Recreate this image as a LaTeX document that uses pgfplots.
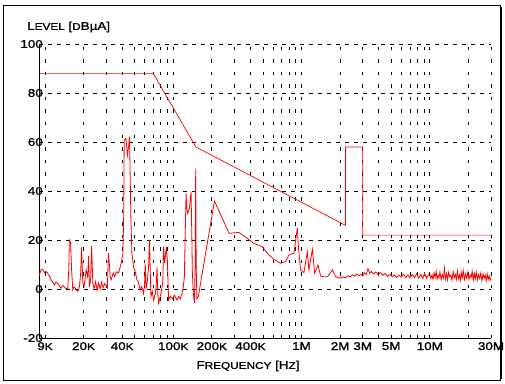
\documentclass[border=0pt]{standalone}
\usepackage{fontspec}
\setmainfont{Liberation Sans}[FakeStretch=1.2,FakeBold=1.3]
\usepackage{pgfplots}
\pgfplotsset{compat=1.18}
\newcommand\sm[1]{{\fontsize{9.8}{10}\selectfont #1}}
\begin{document}
\begin{tikzpicture}
\useasboundingbox (-39pt,-45pt) rectangle (466pt,338pt);
\draw[line width=0.9pt] (-36pt,-42pt) rectangle (461pt,333pt);
\draw[line width=1.2pt] (462pt,-41pt) -- (462pt,331pt);
\begin{axis}[
  at={(0pt,0pt)}, anchor=south west,
  scale only axis, width=452pt, height=294pt,
  xmode=log, xmin=9000, xmax=3e7, ymin=-20, ymax=100,
  axis x line*=bottom, axis y line*=left,
  every outer x axis line/.append style={-},
  every outer y axis line/.append style={-},
  axis line style={line width=0.9pt, black},
  xtick={9000,20000,40000,100000,200000,400000,1000000,2000000,3000000,5000000,10000000,30000000},
  xticklabels={\hspace*{12pt}9\sm{K},20\sm{K},40\sm{K},100\sm{K},200\sm{K},400\sm{K},1M,2M,3M,5M,10M,30M},
  minor xtick={10000,30000,50000,60000,70000,80000,90000,300000,500000,600000,700000,800000,900000,4000000,6000000,7000000,8000000,9000000,20000000},
  ytick={-20,0,20,40,60,80,100},
  yticklabels={-20,0,20,40,60,80,100},
  major tick length=0pt, minor tick length=0pt,
  xmajorgrids, xminorgrids, ymajorgrids,
  x grid style={black, line width=0.7pt, dash pattern=on 3.5pt off 9pt},
  minor x grid style={black, line width=0.7pt, dash pattern=on 3.5pt off 9pt},
  y grid style={black, line width=0.7pt, dash pattern=on 4pt off 5pt},
  tick label style={font=\fontsize{11.2}{12}\selectfont},
  xticklabel style={yshift=-3pt, inner sep=1pt},
  yticklabel style={anchor=east, inner sep=0pt, xshift=4pt},
  clip=false,
]
% limit line
\addplot[red, line width=0.7pt] coordinates {
(9000,88)(70000,88)(150000,58)(2200000,26)(2200000,58)(3000000,58)(3000000,22)(30000000,22)};
% measured trace
\addplot[red, line width=0.8pt] coordinates {
(9000,5.5)(9163,6.5)(9329,7.8)(9619,8)(9901,6.7)(10200,7.2)(10525,6.4)(10800,5.5)(11168,3.7)(11500,2.8)(11851,1.6)(12200,2.8)(12599,2.3)(13000,1.2)(13367,0.3)(13800,1.5)(14187,0.9)(14600,0.1)(15082,0.3)(15355,8)(15522,20)(15862,19)(16150,8)(16503,-0.4)(16850,0.8)(17201,0.5)(17600,-0.6)(18052,-1)(18580,0.8)(18986,6)(19330,17)(19753,2.4)(20222,1)(20963,7.8)(21535,5)(21926,13.5)(22244,0.8)(22727,4)(23142,17.5)(23645,2.3)(24206,0)(24868,3)(25547,-0.5)(26246,2.5)(26964,0)(27701,2.8)(28461,0.5)(29238,2.2)(30038,1.5)(30695,0.5)(31252,14.6)(31819,10)(32283,5)(32865,3.7)(34067,6.5)(34999,5)(35959,7)(37274,6.5)(38154,7.8)(39342,10.5)(40567,14.6)(41153,30)(41525,60.8)(42809,61.5)(44060,54.7)(44861,58)(45675,62.2)(46250,45)(46837,28.2)(47687,14.6)(49081,9.1)(50611,7)(52186,3.7)(53417,3)(55379,-0.4)(56894,1)(58759,-1.8)(59832,2)(60589,10.5)(61472,0)(62813,3)(64301,9.1)(65467,20)(66546,3)(67147,-3.1)(68733,-1)(70347,-4.5)(72535,-2)(73850,2)(74779,9.1)(75871,-2)(76956,-5.8)(79350,-3)(81515,0)(82997,3)(84202,17.3)(85731,10.5)(86821,13)(88396,17.3)(90000,12)(92138,-4.5)(94986,-3)(98473,-4)(102068,-2.5)(107150,-4.5)(110663,-3)(113704,-4)(117216,-1.8)(120017,1)(122193,5)(124406,25)(125989,39)(127812,33)(129676,30.9)(133705,33)(137862,39.7)(139859,20)(141121,6.4)(143681,-2)(146288,-5.8)(148428,10)(149767,48.9)(151092,10)(153018,-4)(157179,-3)(209565,35.9)(273050,22.7)(324522,23.1)(377604,20.7)(425115,18.6)(494469,17.3)(541034,14.6)(609257,12.1)(687213,10.5)(751851,11.2)(797903,13.9)(872850,14.6)(927990,24.8)(949950,16)(984690,7.8)(1045080,6.7)(1111050,15.2)(1143450,7.8)(1215540,16.2)(1266840,6.4)(1344150,9.8)(1411020,5.3)(1489320,5)(1591920,5.0)(1741770,7.8)(1848150,5)(2022390,4.4)
(2100000,5.0)(2200000,4.5)(2300000,5.4)(2400000,5.0)(2500000,5.8)(2600000,5.2)(2700000,6.1)(2800000,5.5)(2900000,5.9)(3000000,5.3)(3100000,6.6)(3200000,6.0)(3300000,8.3)(3400000,6.4)(3500000,7.2)(3650000,6.1)(3800000,7.0)(3950000,5.8)(4100000,6.7)(4300000,5.6)(4500000,6.3)(4700000,5.1)(4900000,6.0)(5100000,5.0)(5300000,5.7)(5500000,4.7)(5750000,5.6)(6000000,4.9)(6250000,6.1)(6500000,4.6)(6750000,5.8)(7000000,4.5)(7300000,6.0)(7600000,4.7)(7900000,6.3)(8200000,4.5)(8500000,5.9)(8800000,4.3)(9100000,6.4)(9400000,4.4)(9700000,5.7)
(10000000,6.1)(10200000,4.2)(10400000,5.8)(10600000,3.9)(10800000,6.6)(11000000,4.8)(11200000,7.2)(11400000,4.0)(11600000,5.5)(11800000,4.6)(12000000,6.9)(12250000,3.8)(12500000,5.9)(12750000,4.4)(13000000,8.6)(13250000,4.1)(13500000,6.3)(13750000,3.7)(14000000,6.8)(14300000,4.9)(14600000,5.6)(14900000,3.6)(15200000,7.1)(15500000,4.5)(15800000,6.0)(16100000,3.9)(16400000,7.4)(16700000,4.2)(17000000,5.8)(17300000,3.5)(17600000,6.7)(17900000,4.6)(18200000,7.6)(18600000,3.8)(19000000,6.2)(19400000,4.4)(19800000,7.0)(20200000,3.9)(20600000,5.7)(21000000,4.8)(21400000,7.3)(21800000,3.6)(22200000,6.5)(22600000,4.1)(23000000,6.9)(23500000,3.7)(24000000,5.9)(24500000,4.3)(25000000,6.6)(25500000,3.4)(26000000,6.1)(26500000,4.5)(27000000,5.8)(27500000,3.3)(28000000,6.2)(28500000,3.9)(29000000,5.4)(29500000,3.5)(30000000,4.6)};
\end{axis}
\node[anchor=west, inner sep=0pt] at (-12pt,311pt) {\fontsize{11.2}{12}\selectfont L\sm{EVEL} [\sm{D}BµA]};
\node[inner sep=0pt] at (209pt,-28pt) {\fontsize{11.2}{12}\selectfont F\sm{REQUENCY} [H\sm{Z}]};
\end{tikzpicture}
\end{document}
